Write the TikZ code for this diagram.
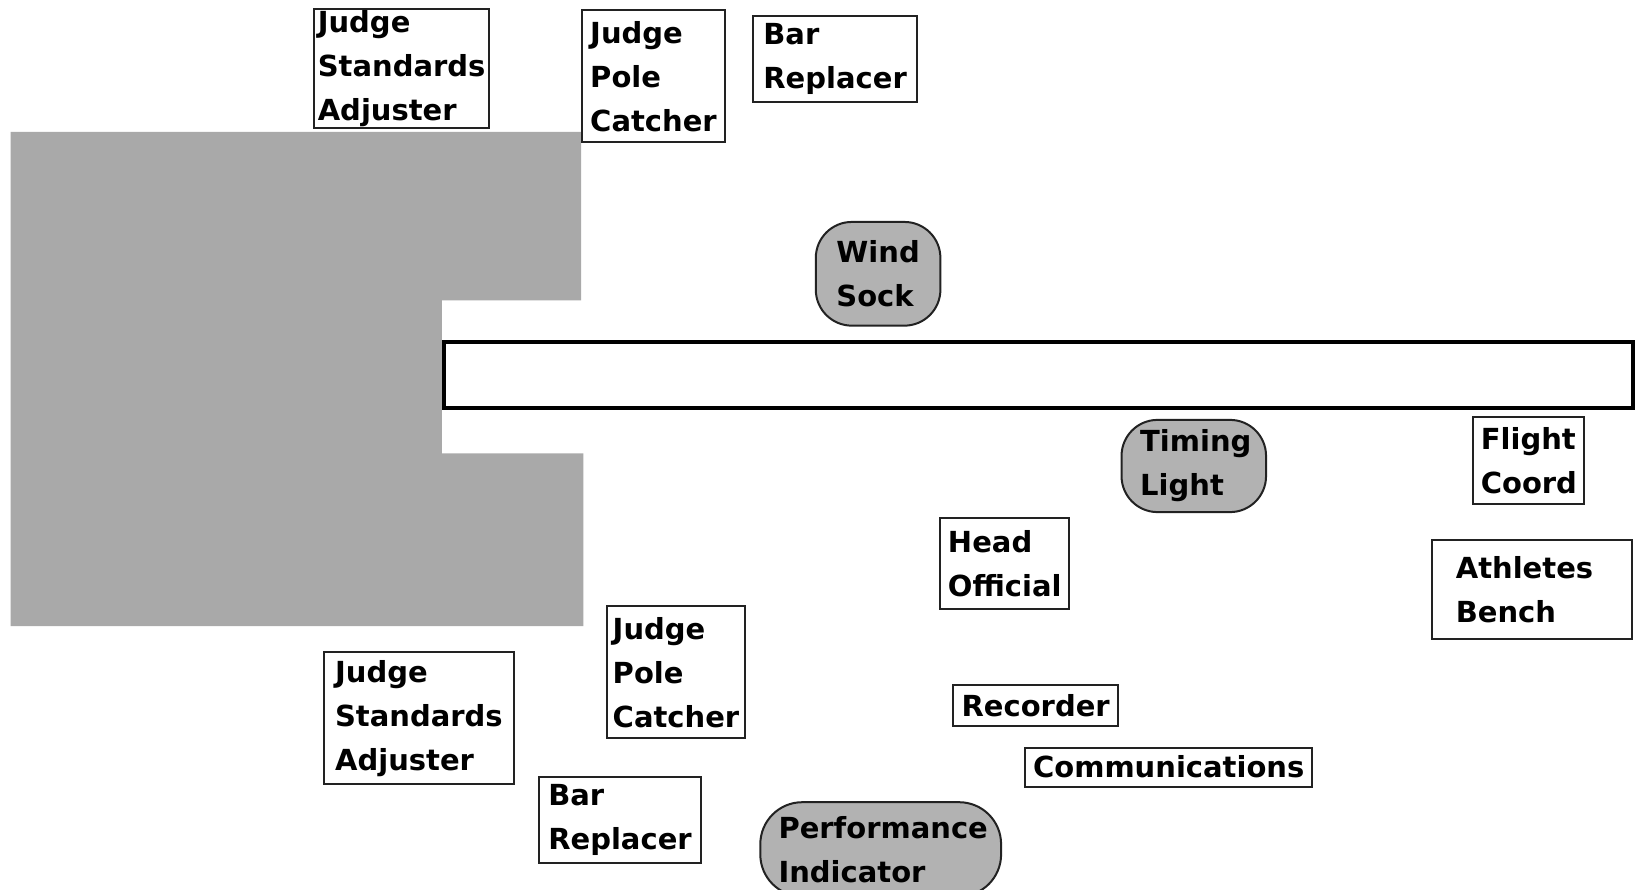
\documentclass[tikz,border=0pt]{standalone}
\usepackage{fontspec}
\setmainfont{DejaVu Sans}
\definecolor{fieldgray}{HTML}{A9A9A9}
\definecolor{pillgray}{HTML}{B2B2B2}
\definecolor{inkline}{HTML}{222222}
\begin{document}
\begin{tikzpicture}[x=1pt,y=-1pt,
  lbl/.style={font=\bfseries\fontsize{29}{44}\selectfont, align=left, inner sep=0pt, text=black},
  box/.style={lbl, draw=inkline, line width=2pt, fill=white},
  pill/.style={lbl, draw=inkline, line width=2pt, fill=pillgray, rounded corners=36pt},
  sz/.style 2 args={minimum width=#1pt, minimum height=#2pt}]
\useasboundingbox (0,0) rectangle (1642,890);
\fill[white] (0,0) rectangle (1642,890);
% pit / landing area
\fill[fieldgray] (10.5,132) -- (581.2,132) -- (581.2,300.5) -- (441.9,300.5)
  -- (441.9,453.4) -- (583.3,453.4) -- (583.3,626.2) -- (10.5,626.2) -- cycle;
% runway
\node[draw=black, line width=4pt, fill=white, minimum width=1189pt, minimum height=66pt, inner sep=0pt] (runway) at (1038.8,375.4) {};
% top boxes
\node[box, sz={174.8}{118.4}] (jsatop) at (401.6,68.6) {Judge\\Standards\\Adjuster};
\node[box, sz={142.5}{131.9}] (jpctop) at (653.5,76.4) {Judge\\Pole\\Catcher};
\node[box, sz={164.4}{85.9}] (brtop) at (835.1,58.6) {Bar\\Replacer};
% pills
\node[pill, sz={124.6}{103.7}] (wind) at (878.1,273.8) {Wind\\Sock};
\node[pill, sz={144.5}{92.2}] (timing) at (1193.8,466.0) {\hspace*{4pt}Timing\\\hspace*{4pt}Light};
\node[pill, sz={240.8}{94.2}, rounded corners=42pt] (perf) at (880.7,849.3) {\hspace*{5pt}Performance\\\hspace*{5pt}Indicator};
% right side
\node[box, sz={111}{86.9}] (flight) at (1528.9,460.2) {Flight\\Coord};
\node[box, sz={200}{98.4}] (bench) at (1531.5,589.6) {\hspace*{-14pt}Athletes\\\hspace*{-14pt}Bench};
\node[box, sz={128.8}{91.1}] (head) at (1004.8,563.9) {Head\\Official};
% bottom boxes
\node[box, sz={137.2}{132.0}] (jpcbot) at (676.0,672.3) {Judge\\Pole\\Catcher};
\node[box, sz={190.6}{132.0}] (jsabot) at (418.9,718.4) {Judge\\Standards\\Adjuster};
\node[box, sz={165.4}{40.8}] (rec) at (1035.7,705.3) {Recorder};
\node[box, sz={286.9}{38.8}] (comm) at (1168.7,767.1) {Communications};
\node[box, sz={161.3}{85.9}] (brbot) at (620.0,820.0) {Bar\\Replacer};
\end{tikzpicture}
\end{document}
